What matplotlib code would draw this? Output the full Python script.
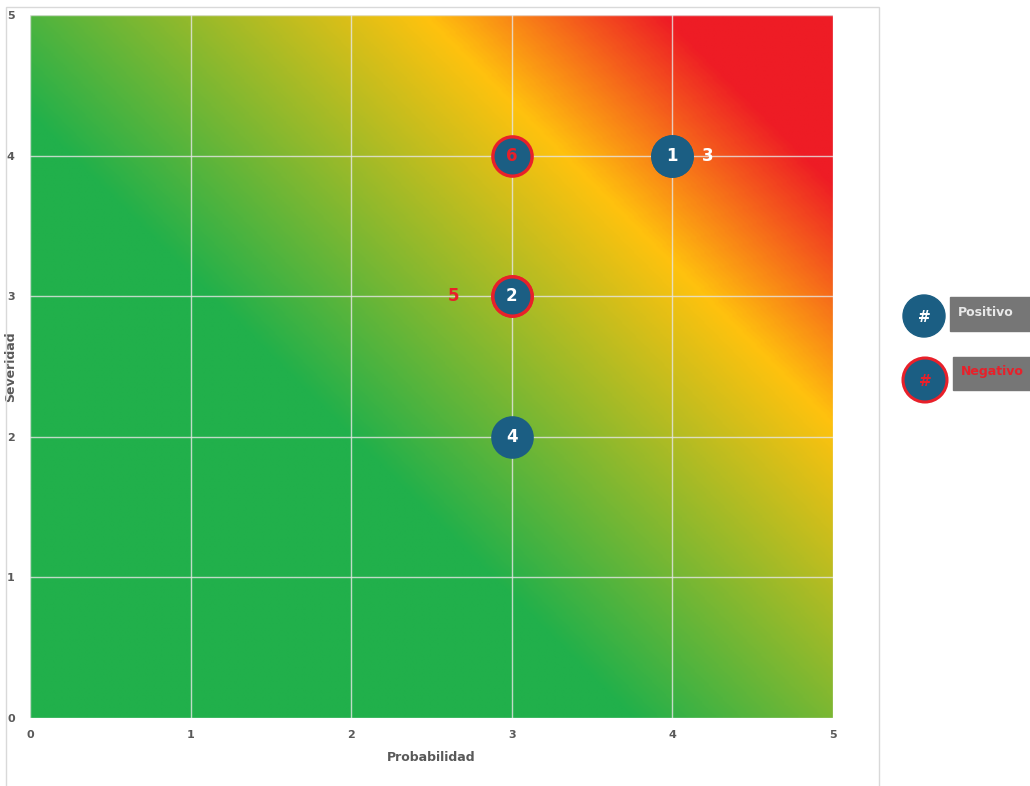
import matplotlib.pyplot as plt
import numpy as np
from matplotlib.colors import LinearSegmentedColormap
from matplotlib.patches import Rectangle, Circle

# risk points
ids = ['1', '2', '3', '4', '5', '6']
prob = [4, 3, 4, 3, 3, 3]
sev = [4, 3, 4, 2, 3, 4]
negative = [False, True, False, False, True, True]
label_pos = ['center', 'center', 'right', 'center', 'left', 'center']
label_col = ['white', 'white', 'white', 'white', '#E8202A', '#E8202A']

ticks = [0, 1, 2, 3, 4, 5]

blue = '#1B5E83'
red = '#E8202A'
gray_txt = '#595959'

fig = plt.figure(figsize=(10.3, 7.86), dpi=100)
ax = fig.add_axes([30/1030, 68/786, 803/1030, 703/786])

# diagonal gradient background (45 deg in pixel space)
W, H = 803, 703
xs = np.linspace(0, 1, 400)
ys = np.linspace(0, 1, 400)
X, Y = np.meshgrid(xs, ys)
U = (X * W + Y * H) / (W + H)
cmap = LinearSegmentedColormap.from_list('risk', [
    (0.0, '#21B04B'), (0.40, '#21B04B'), (0.73, '#FFC20E'),
    (0.89, '#EE1C25'), (1.0, '#EE1C25')])
ax.imshow(U, cmap=cmap, origin='lower', extent=[0, 5, 0, 5], aspect='auto',
          interpolation='bilinear', zorder=0)

ax.set_xlim(0, 5)
ax.set_ylim(0, 5)
ax.set_xticks(ticks)
ax.set_yticks(ticks)
ax.grid(True, color='#E6E6E6', linewidth=1, alpha=0.8, zorder=1)
for s in ax.spines.values():
    s.set_visible(False)
ax.tick_params(length=0, labelsize=8, labelcolor=gray_txt)
ax.tick_params(axis='x', pad=9)
ax.tick_params(axis='y', pad=11)
for lbl in ax.get_xticklabels() + ax.get_yticklabels():
    lbl.set_fontweight('bold')
ax.set_xlabel('Probabilidad', fontsize=9, fontweight='bold', color=gray_txt)
ax.set_ylabel('Severidad', fontsize=9, fontweight='bold', color=gray_txt)
ax.xaxis.set_label_coords(0.5, -0.047)
ax.yaxis.set_label_coords(-0.016, 0.5)

# markers
for i in range(len(ids)):
    ec = red if negative[i] else blue
    ax.scatter(prob[i], sev[i], s=800, color=blue, edgecolors=ec,
               linewidths=2.4, zorder=3)
for i in range(len(ids)):
    dx = {'center': 0, 'right': 0.22, 'left': -0.36}[label_pos[i]]
    ax.text(prob[i] + dx, sev[i], ids[i], color=label_col[i], fontsize=12,
            fontweight='bold', ha='center', va='center', zorder=4)

# outer chart frame
fig.patches.append(Rectangle((6/1030, -0.01), 873/1030, 1.0 - 7/786 + 0.01,
                             transform=fig.transFigure, fill=False,
                             edgecolor='#D9D9D9', linewidth=1))

# legend
lax = fig.add_axes([0, 0, 1, 1], facecolor='none')
lax.set_xlim(0, 1030)
lax.set_ylim(786, 0)
lax.axis('off')
lax.add_patch(Circle((924, 316), 21, color=blue, zorder=2))
lax.text(924, 318, '#', color='white', fontsize=11, fontweight='bold',
         ha='center', va='center')
lax.add_patch(Rectangle((950, 297), 80, 34, color='#767676'))
lax.text(958, 312, 'Positivo', color='#E8E8E8', fontsize=9, fontweight='bold',
         ha='left', va='center')
lax.add_patch(Circle((925, 380), 22, facecolor=blue, edgecolor=red,
                     linewidth=2.2, zorder=2))
lax.text(925, 382, '#', color=red, fontsize=11, fontweight='bold',
         ha='center', va='center')
lax.add_patch(Rectangle((953, 357), 77, 33, color='#767676'))
lax.text(961, 372, 'Negativo', color=red, fontsize=9, fontweight='bold',
         ha='left', va='center')

fig.savefig('out.png', dpi=100)
